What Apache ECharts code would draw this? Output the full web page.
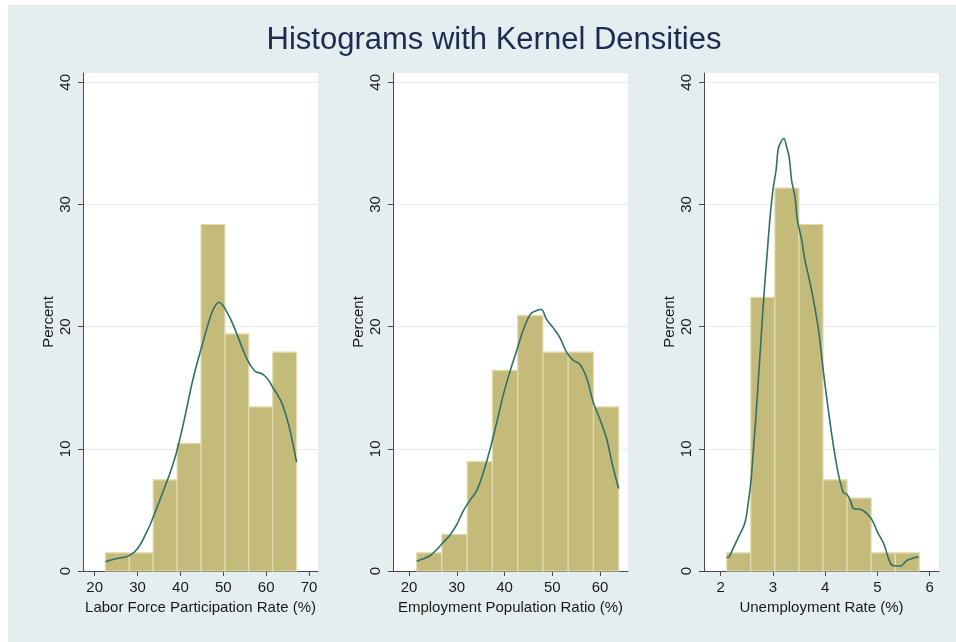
<!DOCTYPE html>
<html>
<head>
<meta charset="utf-8">
<title>Histograms with Kernel Densities</title>
<script src="https://cdn.jsdelivr.net/npm/echarts@6/dist/echarts.min.js"></script>
<style>
  html, body { margin: 0; padding: 0; background: #ffffff; }
  #chart { width: 956px; height: 642px; }
</style>
</head>
<body>
<div id="chart"></div>
<script>
// ---- Histogram bins (edges) and bar heights in percent ----
const lfprEdges = [22.5, 28.08, 33.65, 39.23, 44.8, 50.38, 55.95, 61.53, 67.1];
const lfprPct   = [1.49, 1.49, 7.46, 10.45, 28.36, 19.40, 13.43, 17.91];

const eprEdges  = [21.6, 26.89, 32.18, 37.47, 42.76, 48.05, 53.34, 58.63, 63.92];
const eprPct    = [1.49, 2.99, 8.96, 16.42, 20.90, 17.91, 17.91, 13.43];

const urEdges   = [2.115, 2.576, 3.037, 3.498, 3.959, 4.42, 4.881, 5.342, 5.803];
const urPct     = [1.49, 22.39, 31.34, 28.36, 7.46, 5.97, 1.49, 1.49];

// ---- Kernel density curves (scaled to percent per bin) ----
const lfprKdX = [22.5, 24, 25.5, 27, 28.2, 29.4, 30.6, 31.8, 33, 34.2, 35.4, 36.6, 37.8, 39, 40.2, 41.4, 42.6, 43.8, 45, 46.2, 47.4, 48.3, 49, 49.8, 50.6, 51.6, 52.6, 53.6, 54.6, 55.6, 56.6, 57.6, 58.6, 59.6, 60.6, 61.6, 62.6, 63.6, 64.5, 65.3, 66.2, 67.1];
const lfprKdY = [0.75, 0.92, 1.05, 1.13, 1.3, 1.6, 2.15, 2.95, 3.85, 4.9, 6.0, 7.1, 8.25, 9.6, 11.3, 13.2, 15.2, 16.9, 18.4, 19.9, 21.2, 21.8, 22.0, 21.8, 21.35, 20.7, 19.9, 19.0, 18.1, 17.3, 16.7, 16.3, 16.2, 16.0, 15.6, 15.0, 14.45, 13.8, 12.9, 11.9, 10.5, 8.9];

const eprKdX = [21.6, 23, 24.4, 25.8, 27.2, 28.6, 30, 31.4, 32.8, 34.2, 35.6, 37, 38.4, 39.8, 41.2, 42.6, 44, 45.4, 46.6, 47.7, 48.8, 50.2, 51.6, 53, 54.4, 55.8, 57.2, 58.6, 60, 61.4, 62.6, 63.9];
const eprKdY = [0.8, 1.0, 1.25, 1.75, 2.35, 2.95, 3.8, 4.95, 5.8, 6.6, 8.1, 10.0, 12.2, 14.5, 16.4, 18.1, 19.8, 21.0, 21.3, 21.4, 20.6, 19.9, 19.1, 17.9, 17.25, 16.9, 15.8, 13.8, 12.4, 10.8, 8.7, 6.75];

const urKdX = [2.115, 2.15, 2.2, 2.32, 2.46, 2.525, 2.58, 2.62, 2.67, 2.72, 2.78, 2.83, 2.89, 2.94, 3.0, 3.06, 3.1, 3.15, 3.21, 3.26, 3.31, 3.36, 3.42, 3.47, 3.55, 3.61, 3.71, 3.81, 3.88, 3.97, 4.06, 4.16, 4.25, 4.35, 4.41, 4.48, 4.55, 4.67, 4.8, 4.9, 5.0, 5.12, 5.25, 5.34, 5.44, 5.57, 5.79];
const urKdY = [1.15, 1.1, 1.5, 2.6, 3.9, 5.5, 7.4, 9.6, 12.35, 15.6, 19.5, 22.7, 26.0, 28.7, 31.2, 32.8, 34.5, 35.1, 35.4, 34.75, 33.9, 31.9, 30.7, 28.7, 27.1, 25.5, 23.6, 21.4, 19.5, 16.2, 13.2, 10.2, 8.0, 6.4, 6.3, 5.8, 5.1, 5.06, 4.7, 4.16, 3.2, 2.25, 0.64, 0.41, 0.41, 0.88, 1.17];

// ---- Axis tick labels ----
const yTicks     = [0, 10, 20, 30, 40];
const lfprXTicks = [20, 30, 40, 50, 60, 70];
const eprXTicks  = [20, 30, 40, 50, 60];
const urXTicks   = [2, 3, 4, 5, 6];

const titleText = 'Histograms with Kernel Densities';
const xNames = ['Labor Force Participation Rate (%)', 'Employment Population Ratio (%)', 'Unemployment Rate (%)'];
const yName = 'Percent';

// ---- Styling ----
const FONT = '"Liberation Sans", Arial, Helvetica, sans-serif';
const BG = '#e4edef';
const BAR_FILL = '#c4bb7a';
const BAR_EDGE = '#e2dcad';
const KD_COLOR = '#2f7068';
const AXIS_COLOR = '#4a4a4a';
const TEXT_COLOR = '#1a1a1a';
const GRID_COLOR = '#e6eef1';

const panels = [
  { edges: lfprEdges, pct: lfprPct, kx: lfprKdX, ky: lfprKdY, ticks: lfprXTicks, xmin: 17.27, xmax: 72.1, left: 83 },
  { edges: eprEdges,  pct: eprPct,  kx: eprKdX,  ky: eprKdY,  ticks: eprXTicks,  xmin: 16.65, xmax: 65.86, left: 393 },
  { edges: urEdges,   pct: urPct,   kx: urKdX,   ky: urKdY,   ticks: urXTicks,   xmin: 1.68,  xmax: 6.18,  left: 704 }
];

const grids = [], xAxes = [], yAxes = [], series = [];

panels.forEach((p, i) => {
  grids.push({
    left: p.left, top: 73, width: 235, height: 498,
    show: true, backgroundColor: '#ffffff', borderWidth: 0
  });
  xAxes.push({
    type: 'value', gridIndex: i, min: p.xmin, max: p.xmax,
    name: xNames[i], nameLocation: 'middle', nameGap: 26,
    nameTextStyle: { fontFamily: FONT, fontSize: 15, color: TEXT_COLOR },
    axisLine: { show: true, onZero: false, lineStyle: { color: AXIS_COLOR, width: 1 } },
    axisTick: { show: true, length: 5, customValues: p.ticks, lineStyle: { color: AXIS_COLOR } },
    axisLabel: { customValues: p.ticks, margin: 9, fontFamily: FONT, fontSize: 15, color: TEXT_COLOR,
                 showMinLabel: true, showMaxLabel: true },
    splitLine: { show: false }
  });
  yAxes.push({
    type: 'value', gridIndex: i, min: 0, max: 40.76, interval: 10,
    name: yName, nameLocation: 'middle', nameGap: 27, nameRotate: 90,
    nameTextStyle: { fontFamily: FONT, fontSize: 15, color: TEXT_COLOR },
    axisLine: { show: true, lineStyle: { color: AXIS_COLOR, width: 1 } },
    axisTick: { show: true, length: 5, customValues: yTicks, lineStyle: { color: AXIS_COLOR } },
    axisLabel: { customValues: yTicks, rotate: 90, margin: 10, fontFamily: FONT, fontSize: 15, color: TEXT_COLOR },
    splitLine: { show: true, lineStyle: { color: GRID_COLOR, width: 1.2 } }
  });

  const bins = p.pct.map((v, k) => [p.edges[k], p.edges[k + 1], v]);
  series.push({
    type: 'custom', xAxisIndex: i, yAxisIndex: i,
    encode: { x: [0, 1], y: 2 },
    data: bins,
    renderItem: (params, api) => {
      const a = api.coord([api.value(0), 0]);
      const b = api.coord([api.value(1), api.value(2)]);
      return {
        type: 'rect',
        shape: { x: a[0], y: b[1], width: b[0] - a[0], height: a[1] - b[1] },
        style: { fill: BAR_FILL, stroke: BAR_EDGE, lineWidth: 1.2 }
      };
    },
    z: 2
  });
  series.push({
    type: 'line', xAxisIndex: i, yAxisIndex: i,
    data: p.kx.map((x, k) => [x, p.ky[k]]),
    showSymbol: false, smooth: 0.35,
    lineStyle: { color: KD_COLOR, width: 1.6 },
    z: 3
  });
});

const chart = echarts.init(document.getElementById('chart'), null, { renderer: 'canvas' });
chart.setOption({
  animation: false,
  backgroundColor: '#ffffff',
  title: {
    text: titleText, left: 489, top: 20, textAlign: 'center',
    textStyle: { fontFamily: FONT, fontSize: 31, fontWeight: 'normal', color: '#1e2b4f' }
  },
  graphic: [{
    type: 'rect', z: -10, silent: true,
    shape: { x: 8, y: 5, width: 948, height: 637 },
    style: { fill: BG }
  }],
  grid: grids,
  xAxis: xAxes,
  yAxis: yAxes,
  series: series
});
</script>
</body>
</html>
